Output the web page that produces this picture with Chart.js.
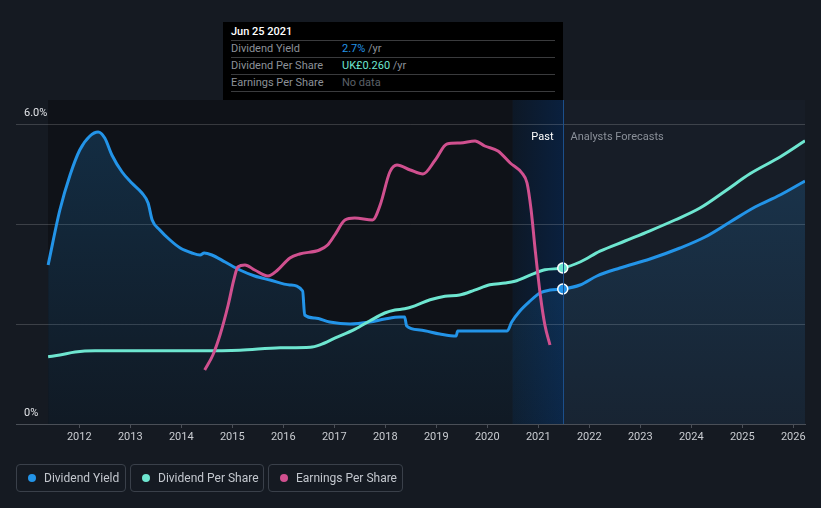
<!DOCTYPE html>
<html>
<head>
<meta charset="utf-8">
<script src="https://cdn.jsdelivr.net/npm/chart.js@4.4.1/dist/chart.umd.min.js"></script>
<style>
  html,body{margin:0;padding:0;}
  body{background:#151a22;width:821px;height:508px;overflow:hidden;position:relative;font-family:Roboto,"Open Sans",sans-serif;}
  #c{position:absolute;left:0;top:0;}
  #tip{position:absolute;left:223px;top:22px;width:340px;height:78px;background:#000;}
  #tip .t{position:absolute;left:8px;font-size:11px;line-height:14px;white-space:nowrap;}
  #tip .sep{position:absolute;left:8px;width:324px;height:1px;background:#3a3b3d;}
  .lg{position:absolute;top:464px;border:1px solid #3a404a;border-radius:4px;box-sizing:border-box;height:28px;}
  .lg .dot{position:absolute;left:11px;top:9px;width:8px;height:8px;border-radius:50%;}
  .lg .lab{position:absolute;left:27px;top:6px;font-size:12px;line-height:14px;color:#c3c7ce;white-space:nowrap;}
</style>
</head>
<body>
<canvas id="c" width="821" height="508"></canvas>
<div id="tip">
  <div class="t" style="top:3px;color:#fff;font-weight:500;">Jun 25 2021</div>
  <div class="sep" style="top:18px"></div>
  <div class="t" style="top:20px;color:#8c9198;">Dividend Yield</div>
  <div class="t" style="top:20px;left:119px;color:#8c9198;"><span style="color:#2394e8">2.7%</span> /yr</div>
  <div class="sep" style="top:35px"></div>
  <div class="t" style="top:37px;color:#8c9198;">Dividend Per Share</div>
  <div class="t" style="top:37px;left:119px;color:#8c9198;"><span style="color:#6ee6d0">UK£0.260</span> /yr</div>
  <div class="sep" style="top:52px"></div>
  <div class="t" style="top:54px;color:#8c9198;">Earnings Per Share</div>
  <div class="t" style="top:54px;left:119px;color:#5c6168;">No data</div>
  <div class="sep" style="top:69px"></div>
</div>
<div class="lg" style="left:16px;width:110px;"><div class="dot" style="background:#2394e8"></div><div class="lab">Dividend Yield</div></div>
<div class="lg" style="left:130px;width:134px;"><div class="dot" style="background:#6ee6d0"></div><div class="lab">Dividend Per Share</div></div>
<div class="lg" style="left:268px;width:135px;"><div class="dot" style="background:#d0508f"></div><div class="lab">Earnings Per Share</div></div>
<script>
// ---- data (fractional years) ----
const dyYears = [2011.39,2011.62,2011.82,2012.01,2012.21,2012.37,2012.50,2012.64,2012.84,2013.03,2013.23,2013.35,2013.43,2013.58,2013.78,2013.98,2014.21,2014.37,2014.45,2014.60,2014.86,2015.15,2015.44,2015.74,2016.13,2016.38,2016.42,2016.62,2016.91,2017.31,2017.70,2017.99,2018.29,2018.38,2018.42,2018.68,2019.07,2019.39,2019.42,2019.86,2020.39,2020.48,2020.64,2020.84,2021.03,2021.23,2021.48,2021.82,2022.15,2022.60,2023.19,2023.78,2024.27,2024.76,2025.25,2025.74,2026.23];
const dyValues = [3.18,4.28,4.98,5.48,5.76,5.84,5.72,5.38,5.04,4.82,4.62,4.42,4.08,3.88,3.68,3.52,3.42,3.38,3.42,3.38,3.24,3.08,2.96,2.88,2.78,2.66,2.18,2.12,2.04,2.00,2.04,2.10,2.14,2.14,1.96,1.88,1.80,1.76,1.86,1.86,1.86,2.04,2.26,2.46,2.62,2.68,2.70,2.78,2.96,3.12,3.30,3.52,3.74,4.04,4.34,4.58,4.86];

const dpsYears = [2011.39,2011.62,2011.92,2012.31,2013.39,2014.37,2015.15,2015.94,2016.53,2016.72,2017.01,2017.41,2017.70,2017.99,2018.19,2018.38,2018.58,2018.88,2019.17,2019.46,2019.75,2020.05,2020.35,2020.54,2020.84,2021.13,2021.48,2021.82,2022.21,2022.70,2023.19,2023.68,2024.17,2024.66,2025.15,2025.74,2026.23];
const dpsValues = [0.112,0.115,0.120,0.122,0.122,0.122,0.123,0.127,0.128,0.132,0.143,0.158,0.172,0.185,0.190,0.192,0.197,0.207,0.213,0.215,0.223,0.232,0.235,0.238,0.248,0.257,0.260,0.270,0.288,0.305,0.322,0.340,0.360,0.388,0.417,0.445,0.472];

const epsYears = [2014.46,2014.62,2014.76,2014.92,2015.03,2015.11,2015.25,2015.44,2015.70,2015.89,2016.13,2016.32,2016.71,2016.87,2017.01,2017.21,2017.40,2017.75,2017.90,2018.09,2018.23,2018.49,2018.74,2018.98,2019.21,2019.47,2019.76,2019.95,2020.21,2020.45,2020.68,2020.78,2020.86,2020.94,2021.04,2021.13,2021.23];
const epsValues = [0.108,0.138,0.178,0.238,0.288,0.314,0.318,0.308,0.296,0.308,0.332,0.340,0.348,0.358,0.378,0.408,0.412,0.408,0.438,0.504,0.518,0.508,0.500,0.528,0.560,0.562,0.566,0.556,0.546,0.522,0.502,0.482,0.428,0.348,0.258,0.198,0.158];

const tickYears = [2012,2013,2014,2015,2016,2017,2018,2019,2020,2021,2022,2023,2024,2025,2026];
const yTicks = [0,2,4,6];
const hoverYear = 2021.48;
const pastStart = 2011.39;
const bandStart = 2020.5;

const toPts = (xs, ys) => xs.map((x,i)=>({x, y: ys[i]}));

const BLUE = '#2394e8', TEAL = '#6ee6d0', PINK = '#d0508f';

const bgPlugin = {
  id: 'bgPlugin',
  beforeDraw(chart) {
    const {ctx, chartArea: a, scales: {x}} = chart;
    ctx.save();
    ctx.fillStyle = '#171d27';
    ctx.fillRect(a.left, a.top, a.right - a.left, a.bottom - a.top);
    const x0 = x.getPixelForValue(pastStart);
    const x1 = x.getPixelForValue(bandStart);
    const x2 = x.getPixelForValue(hoverYear);
    ctx.fillStyle = '#151a22';
    ctx.fillRect(a.left, a.top, x0 - a.left, a.bottom - a.top);
    ctx.fillStyle = '#0f1218';
    ctx.fillRect(x0, a.top, x1 - x0, a.bottom - a.top);
    const g = ctx.createLinearGradient(x1, 0, x2, 0);
    g.addColorStop(0, 'rgb(13,24,38)');
    g.addColorStop(1, 'rgb(10,32,62)');
    ctx.fillStyle = g;
    ctx.fillRect(x1, a.top, x2 - x1, a.bottom - a.top);
    ctx.restore();
  },
  afterDatasetsDraw(chart) {
    const {ctx, chartArea: a, scales: {x}} = chart;
    const x2 = Math.round(x.getPixelForValue(hoverYear)) + 0.5;
    ctx.save();
    ctx.strokeStyle = '#1b4f8c';
    ctx.lineWidth = 1;
    ctx.beginPath();
    ctx.moveTo(x2, a.top);
    ctx.lineTo(x2, a.bottom);
    ctx.stroke();
    ctx.font = '11px Roboto';
    ctx.textBaseline = 'middle';
    ctx.textAlign = 'right';
    ctx.fillStyle = '#ffffff';
    ctx.fillText('Past', x2 - 10, 137);
    ctx.textAlign = 'left';
    ctx.fillStyle = '#8a9099';
    ctx.fillText('Analysts Forecasts', x2 + 7, 137);
    ctx.restore();
  }
};

const ptRadius = c => (c.raw && c.raw.x === hoverYear) ? 5 : 0;

new Chart(document.getElementById('c'), {
  type: 'line',
  data: {
    datasets: [
      {
        label: 'Dividend Yield',
        data: toPts(dyYears, dyValues),
        borderColor: BLUE,
        borderWidth: 3,
        yAxisID: 'y',
        order: 3,
        cubicInterpolationMode: 'monotone',
        fill: 'origin',
        backgroundColor: (c) => {
          const a = c.chart.chartArea;
          if (!a) return 'rgba(35,148,232,0.15)';
          const g = c.chart.ctx.createLinearGradient(0, a.top, 0, a.bottom);
          g.addColorStop(0, 'rgba(35,148,232,0.22)');
          g.addColorStop(1, 'rgba(35,148,232,0.06)');
          return g;
        },
        pointRadius: ptRadius,
        pointBackgroundColor: BLUE,
        pointBorderColor: '#ffffff',
        pointBorderWidth: 1.5
      },
      {
        label: 'Dividend Per Share',
        data: toPts(dpsYears, dpsValues),
        borderColor: TEAL,
        borderWidth: 3,
        yAxisID: 'y2',
        order: 2,
        cubicInterpolationMode: 'monotone',
        fill: false,
        pointRadius: ptRadius,
        pointBackgroundColor: TEAL,
        pointBorderColor: '#ffffff',
        pointBorderWidth: 1.5
      },
      {
        label: 'Earnings Per Share',
        data: toPts(epsYears, epsValues),
        borderColor: PINK,
        borderWidth: 3,
        yAxisID: 'y3',
        order: 1,
        cubicInterpolationMode: 'monotone',
        fill: false,
        pointRadius: 0
      }
    ]
  },
  options: {
    responsive: false,
    devicePixelRatio: 1,
    animation: false,
    events: [],
    layout: { padding: { left: 16, right: 16, top: 100, bottom: 0 } },
    plugins: { legend: { display: false }, tooltip: { enabled: false } },
    scales: {
      x: {
        type: 'linear',
        min: 2010.76,
        max: 2026.23,
        afterBuildTicks: (ax) => { ax.ticks = tickYears.map(v => ({ value: v })); },
        afterFit: (ax) => { ax.height = 84; },
        ticks: { color: '#c9ccd1', font: { family: 'Roboto', size: 11 }, padding: 3, maxRotation: 0, autoSkip: false, callback: v => String(v) },
        grid: { drawOnChartArea: false, drawTicks: true, tickLength: 4, color: '#4a4f57' },
        border: { color: '#4a4f57' }
      },
      y: {
        position: 'left',
        min: 0,
        max: 6.48,
        afterBuildTicks: (ax) => { ax.ticks = yTicks.map(v => ({ value: v })); },
        afterFit: (ax) => { ax.width = 0; },
        ticks: {
          mirror: true, padding: 8, labelOffset: -11,
          color: '#e2e4e8', font: { family: 'Roboto', size: 11 },
          callback: v => v === 6 ? '6.0%' : (v === 0 ? '0%' : '')
        },
        grid: { drawTicks: false, color: 'rgba(255,255,255,0.17)' },
        border: { display: false }
      },
      y2: { display: false, min: 0, max: 0.54 },
      y3: { display: false, min: 0, max: 0.648 }
    }
  },
  plugins: [bgPlugin]
});
</script>
</body>
</html>
